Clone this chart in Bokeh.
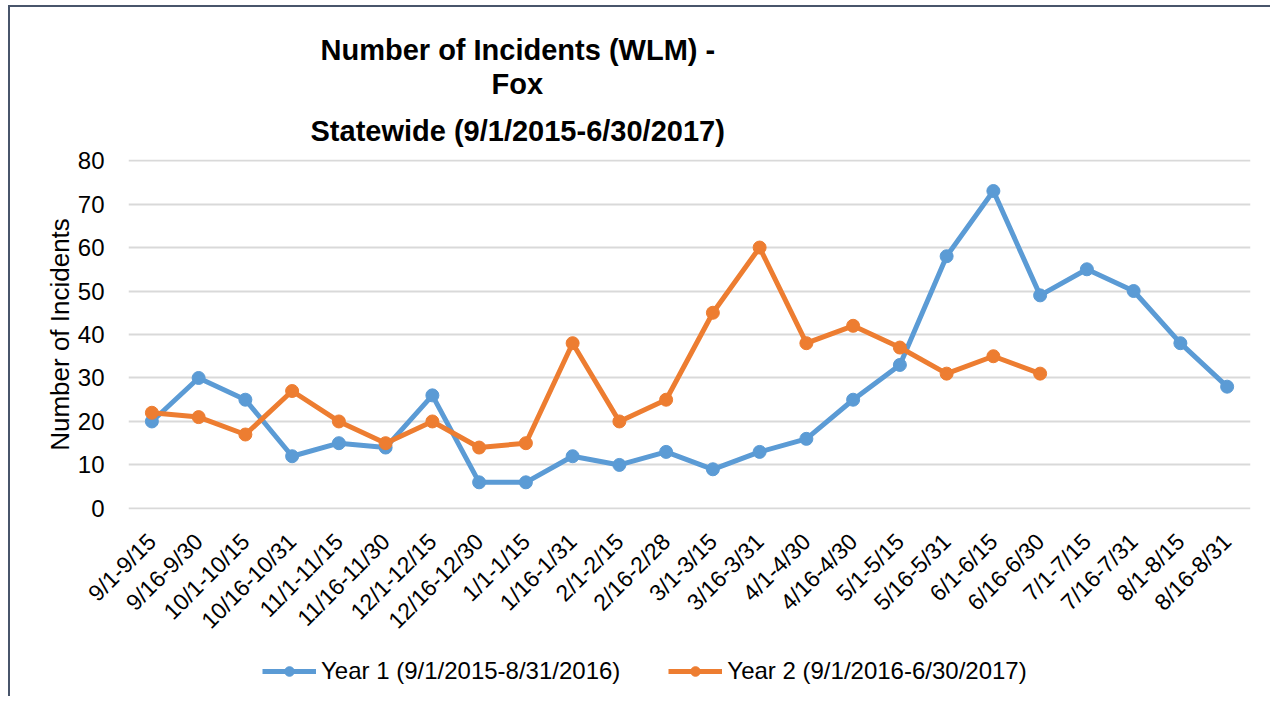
import math
from bokeh.plotting import figure
from bokeh.layouts import column
from bokeh.models import FactorRange, Range1d, Legend, LegendItem, ColumnDataSource, Title
from bokeh.embed import file_html
from bokeh.resources import INLINE

categories = ["9/1-9/15", "9/16-9/30", "10/1-10/15", "10/16-10/31", "11/1-11/15",
              "11/16-11/30", "12/1-12/15", "12/16-12/30", "1/1-1/15", "1/16-1/31",
              "2/1-2/15", "2/16-2/28", "3/1-3/15", "3/16-3/31", "4/1-4/30",
              "4/16-4/30", "5/1-5/15", "5/16-5/31", "6/1-6/15", "6/16-6/30",
              "7/1-7/15", "7/16-7/31", "8/1-8/15", "8/16-8/31"]
year1 = [20, 30, 25, 12, 15, 14, 26, 6, 6, 12, 10, 13, 9, 13, 16, 25, 33, 58, 73, 49, 55, 50, 38, 28]
year2 = [22, 21, 17, 27, 20, 15, 20, 14, 15, 38, 20, 25, 45, 60, 38, 42, 37, 31, 35, 31]
series_names = ["Year 1 (9/1/2015-8/31/2016)", "Year 2 (9/1/2016-6/30/2017)"]
series_colors = ["#5B9BD5", "#ED7D31"]
title_lines = ["Number of Incidents (WLM) -", "Fox", "Statewide (9/1/2015-6/30/2017)"]
y_ticks = [0, 10, 20, 30, 40, 50, 60, 70, 80]

FONT = "Liberation Sans"
BORDER = "#48556b"
LINE_W = 5
MARK_SIZE = 13

p = figure(width=1270, height=646, output_backend="svg", toolbar_location=None,
           x_range=FactorRange(*categories, range_padding=0),
           y_range=Range1d(-0.25, 80.25),
           min_border_left=128, min_border_right=20, min_border_top=159, min_border_bottom=137)
p.styles = {"background": (f"linear-gradient({BORDER},{BORDER}) 8px 5px / 2px 100% no-repeat, "
                           f"linear-gradient({BORDER},{BORDER}) 8px 5px / 100% 2px no-repeat, white")}
p.outline_line_color = None
p.background_fill_color = "white"
p.border_fill_alpha = 0

# title lines: figure title is outermost; added titles stack from the frame outward
title_offsets = [192, 363, 182]
title_standoffs = [0, 0, 26]
p.title.text = title_lines[0]
p.title.align = "left"
p.title.offset = title_offsets[0]
p.title.standoff = title_standoffs[0]
p.title.text_font = FONT
p.title.text_font_size = "29px"
p.title.text_font_style = "bold"
p.title.text_color = "#000000"
for txt, off, so in zip(title_lines[:0:-1], title_offsets[:0:-1], title_standoffs[:0:-1]):
    p.add_layout(Title(text=txt, align="left", offset=off, standoff=so, text_font=FONT,
                       text_font_size="29px", text_font_style="bold",
                       text_color="#000000"), "above")

# grid
p.xgrid.grid_line_color = None
p.ygrid.grid_line_color = "#d9d9d9"
p.ygrid.grid_line_width = 2
p.yaxis.ticker = y_ticks

# axes
for ax in (p.xaxis[0], p.yaxis[0]):
    ax.axis_line_color = None
    ax.major_tick_line_color = None
    ax.minor_tick_line_color = None
    ax.major_label_text_font = FONT
    ax.major_label_text_color = "#000000"

p.yaxis.major_label_text_font_size = "24px"
p.yaxis.major_label_standoff = 18
p.yaxis.axis_label = "Number of Incidents"
p.yaxis.axis_label_text_font = FONT
p.yaxis.axis_label_text_font_size = "26px"
p.yaxis.axis_label_text_font_style = "normal"
p.yaxis.axis_label_text_color = "#000000"
p.yaxis.axis_label_standoff = 0

p.xaxis.major_label_orientation = math.pi / 4
p.xaxis.major_label_text_font_size = "23px"
p.xaxis.major_label_standoff = 22

src1 = ColumnDataSource(dict(x=categories, y=year1))
src2 = ColumnDataSource(dict(x=categories[:len(year2)], y=year2))
sources = [src1, src2]

for src, col in zip(sources, series_colors):
    p.line("x", "y", source=src, line_color=col, line_width=LINE_W, line_join="round")
    p.scatter("x", "y", source=src, marker="circle", size=MARK_SIZE, fill_color=col, line_color=col)

# legend strip below the chart (its own series renderers sit outside its visible y range)
leg = figure(width=1270, height=50, output_backend="svg", toolbar_location=None,
             x_range=FactorRange(*categories, range_padding=0), y_range=Range1d(-200, -100),
             x_axis_type=None, y_axis_type=None, min_border=0)
leg.styles = {"background": (f"linear-gradient({BORDER},{BORDER}) 8px 0px / 2px 100% no-repeat, white")}
leg.outline_line_color = None
leg.background_fill_alpha = 0
leg.border_fill_alpha = 0
leg.xgrid.visible = False
leg.ygrid.visible = False

items = []
for src, name, col in zip(sources, series_names, series_colors):
    l = leg.line("x", "y", source=src, line_color=col, line_width=LINE_W)
    s = leg.scatter("x", "y", source=src, marker="circle", size=MARK_SIZE, fill_color=col, line_color=col)
    items.append(LegendItem(label=name, renderers=[l, s]))

legend = Legend(items=items, orientation="horizontal", location=(134, 11),
                label_text_font=FONT, label_text_font_size="24px", label_text_color="#000000",
                glyph_width=54, glyph_height=24, label_height=24, label_standoff=5,
                spacing=48, padding=0, margin=0, border_line_color=None,
                background_fill_alpha=0)
leg.add_layout(legend, "center")

layout = column(p, leg, spacing=0)
open("out.html", "w").write(file_html(layout, INLINE))
